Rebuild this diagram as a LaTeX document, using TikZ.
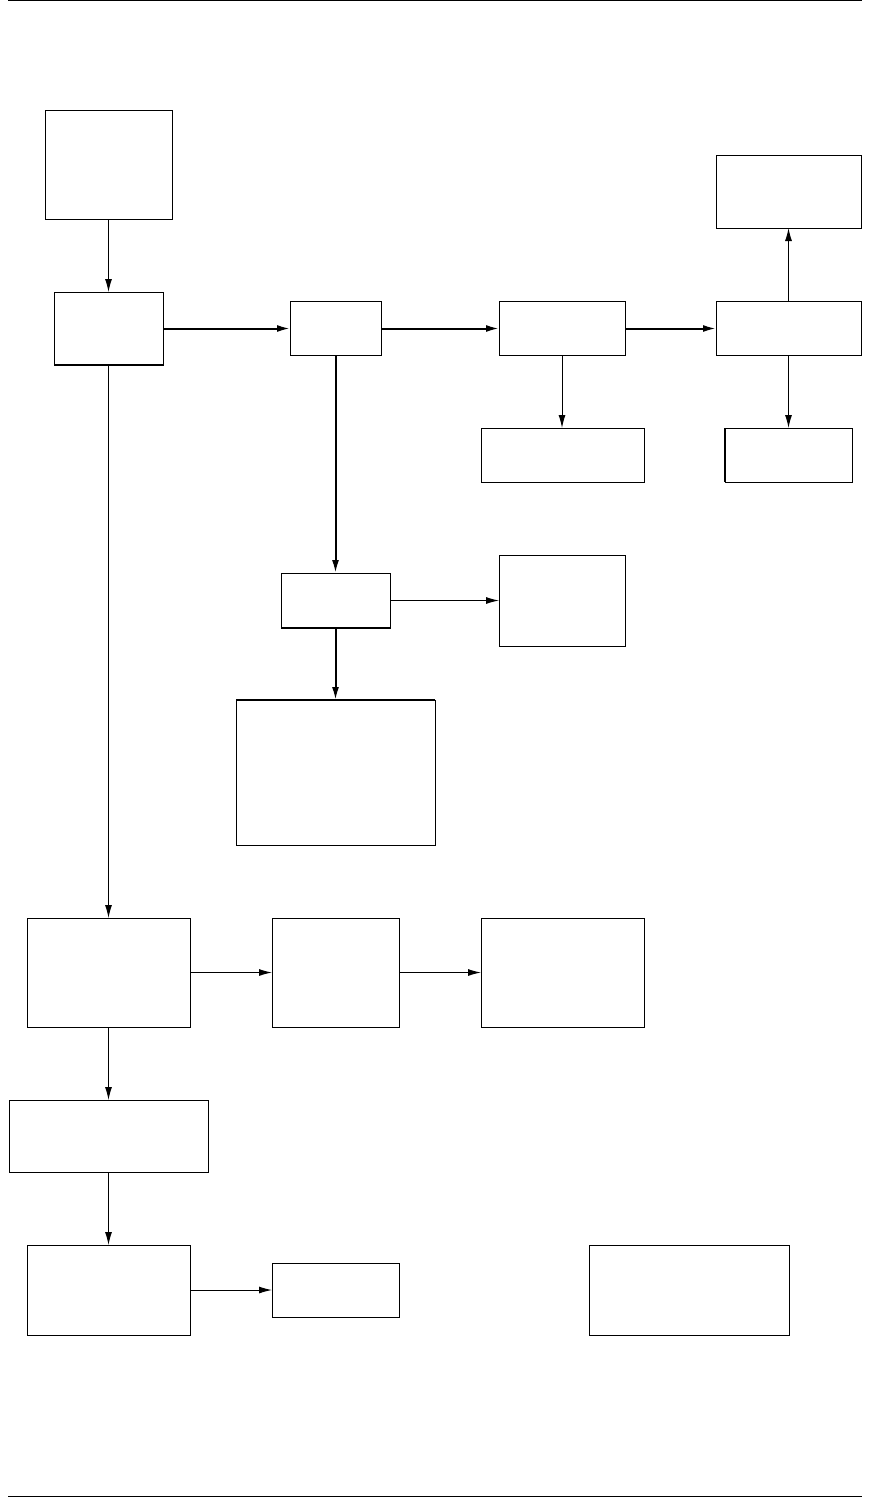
\documentclass[tikz,border=0pt]{standalone}
\usetikzlibrary{arrows.meta}
\begin{document}
\begin{tikzpicture}[x=1pt,y=-1pt,
  box/.style={draw, rectangle, line width=1pt, inner sep=0pt, outer sep=0pt, fill=white},
  thinarr/.style={line width=1pt, -{Latex[length=13pt,width=7pt]}},
  thickarr/.style={line width=2pt, -{Latex[length=13pt,width=7pt]}},
  heavyedge/.style={line width=2pt},
  rule/.style={line width=1.2pt}]
\useasboundingbox (0,0) rectangle (871,1498);
% rules
\coordinate (tl) at (8,0.8);
\coordinate (tr) at (862,0.8);
\coordinate (bl) at (8,1496.5);
\coordinate (br) at (862,1496.5);
\draw[rule] (tl) -- (tr);
\draw[rule] (bl) -- (br);
% boxes
\node[box, minimum width=127pt, minimum height=108pt] (A) at (108.5,165) {};
\node[box, minimum width=109pt, minimum height=73pt] (B) at (108.5,328.5) {};
\node[box, minimum width=91pt, minimum height=54pt] (C) at (335.5,328.5) {};
\node[box, minimum width=126pt, minimum height=54pt] (D) at (562,328.5) {};
\node[box, minimum width=145pt, minimum height=54pt] (E) at (788.5,328.5) {};
\node[box, minimum width=145pt, minimum height=72pt] (F) at (788.5,192) {};
\node[box, minimum width=163pt, minimum height=54pt] (G) at (562.5,455) {};
\node[box, minimum width=127pt, minimum height=54pt] (H) at (788.5,455) {};
\node[box, minimum width=109pt, minimum height=55pt] (I) at (335.5,600.5) {};
\node[box, minimum width=126pt, minimum height=91pt] (J) at (562,600.5) {};
\node[box, minimum width=199pt, minimum height=145pt] (K) at (335.5,772.5) {};
\node[box, minimum width=163pt, minimum height=109pt] (L) at (108.5,972.5) {};
\node[box, minimum width=127pt, minimum height=109pt] (M) at (335.5,972.5) {};
\node[box, minimum width=163pt, minimum height=109pt] (N) at (562.5,972.5) {};
\node[box, minimum width=199pt, minimum height=72pt] (O) at (108.5,1136) {};
\node[box, minimum width=163pt, minimum height=90pt] (P) at (108.5,1290) {};
\node[box, minimum width=127pt, minimum height=54pt] (Q) at (335.5,1290) {};
\node[box, minimum width=200pt, minimum height=90pt] (R) at (689,1290) {};
% heavier edges as printed
\draw[heavyedge] (B.south west) -- (B.south east);
\draw[heavyedge] (I.south west) -- (I.south east);
\draw[heavyedge] (K.north west) -- (K.north east);
\draw[heavyedge] (H.south west) -- (H.north west);
% connectors
\draw[thinarr] (A.south) -- (B.north);
\draw[thickarr] (B.east) -- (C.west);
\draw[thickarr] (C.east) -- (D.west);
\draw[thickarr] (D.east) -- (E.west);
\draw[thinarr] (D.south) -- (G.north -| D.south);
\draw[thinarr] (E.north) -- (F.south);
\draw[thinarr] (E.south) -- (H.north);
\draw[thickarr] (C.south) -- (I.north);
\draw[thinarr] (I.east) -- (J.west);
\draw[thickarr] (I.south) -- (K.north);
\draw[thinarr] (B.south) -- (L.north);
\draw[thinarr] (L.east) -- (M.west);
\draw[thinarr] (M.east) -- (N.west);
\draw[thinarr] (L.south) -- (O.north);
\draw[thinarr] (O.south) -- (P.north);
\draw[thinarr] (P.east) -- (Q.west);
\end{tikzpicture}
\end{document}
